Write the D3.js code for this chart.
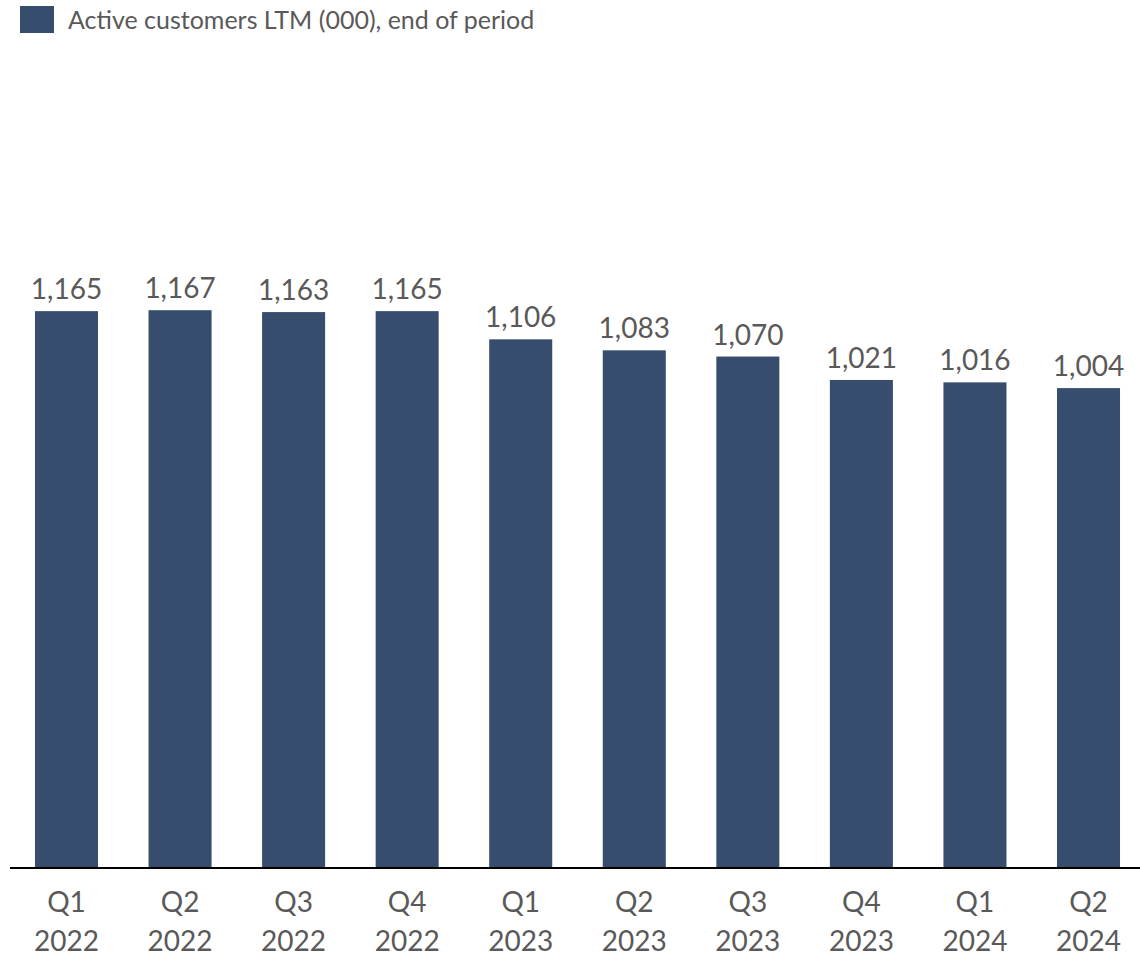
<!DOCTYPE html>
<html>
<head>
<meta charset="utf-8">
<script src="https://cdn.jsdelivr.net/npm/d3@7"></script>
<style>
  body { margin: 0; background: #fff; }
  text { font-family: Lato, "Open Sans", sans-serif; fill: #595959; }
</style>
</head>
<body>
<div id="chart"></div>
<script>
// chart data
const quarters = ["Q1", "Q2", "Q3", "Q4", "Q1", "Q2", "Q3", "Q4", "Q1", "Q2"];
const years = ["2022", "2022", "2022", "2022", "2023", "2023", "2023", "2023", "2024", "2024"];
const customers = [1165, 1167, 1163, 1165, 1106, 1083, 1070, 1021, 1016, 1004];
const seriesName = "Active customers LTM (000), end of period";

const width = 1140;
const height = 958;
const barColor = "#364d6e";

const svg = d3
  .select("#chart")
  .append("svg")
  .attr("width", width)
  .attr("height", height);

const data = customers.map((v, i) => ({ key: i, q: quarters[i], year: years[i], value: v }));

const baseline = 868;

const x = d3
  .scaleBand()
  .domain(data.map((d) => d.key))
  .range([9.7, 1145.3])
  .paddingInner(0.445)
  .paddingOuter(0.2226);

const y = d3.scaleLinear().domain([0, 1200]).range([baseline, 294.4]);

// bars
svg
  .selectAll("rect.bar")
  .data(data)
  .enter()
  .append("rect")
  .attr("class", "bar")
  .attr("x", (d) => x(d.key))
  .attr("width", x.bandwidth())
  .attr("y", (d) => y(d.value))
  .attr("height", (d) => baseline - y(d.value))
  .attr("fill", barColor);

// value labels
svg
  .selectAll("text.value")
  .data(data)
  .enter()
  .append("text")
  .attr("class", "value")
  .attr("x", (d) => x(d.key) + x.bandwidth() / 2)
  .attr("y", (d) => y(d.value) - 12)
  .attr("text-anchor", "middle")
  .style("font-size", "28px")
  .text((d) => d3.format(",")(d.value));

// baseline
svg
  .append("line")
  .attr("x1", 10)
  .attr("x2", width)
  .attr("y1", baseline)
  .attr("y2", baseline)
  .attr("stroke", "#000")
  .attr("stroke-width", 2);

// category labels (two lines)
const cat = svg
  .selectAll("g.cat")
  .data(data)
  .enter()
  .append("g")
  .attr("class", "cat")
  .attr("transform", (d) => "translate(" + (x(d.key) + x.bandwidth() / 2) + ",0)");

cat
  .append("text")
  .attr("y", 912)
  .attr("text-anchor", "middle")
  .style("font-size", "28px")
  .text((d) => d.q);

cat
  .append("text")
  .attr("y", 951)
  .attr("text-anchor", "middle")
  .style("font-size", "28px")
  .text((d) => d.year);

// legend
const legend = svg.append("g").attr("transform", "translate(20,6)");
legend.append("rect").attr("width", 34).attr("height", 27).attr("fill", barColor);
legend
  .append("text")
  .attr("x", 48)
  .attr("y", 23)
  .style("font-size", "25px")
  .text(seriesName);
</script>
</body>
</html>
